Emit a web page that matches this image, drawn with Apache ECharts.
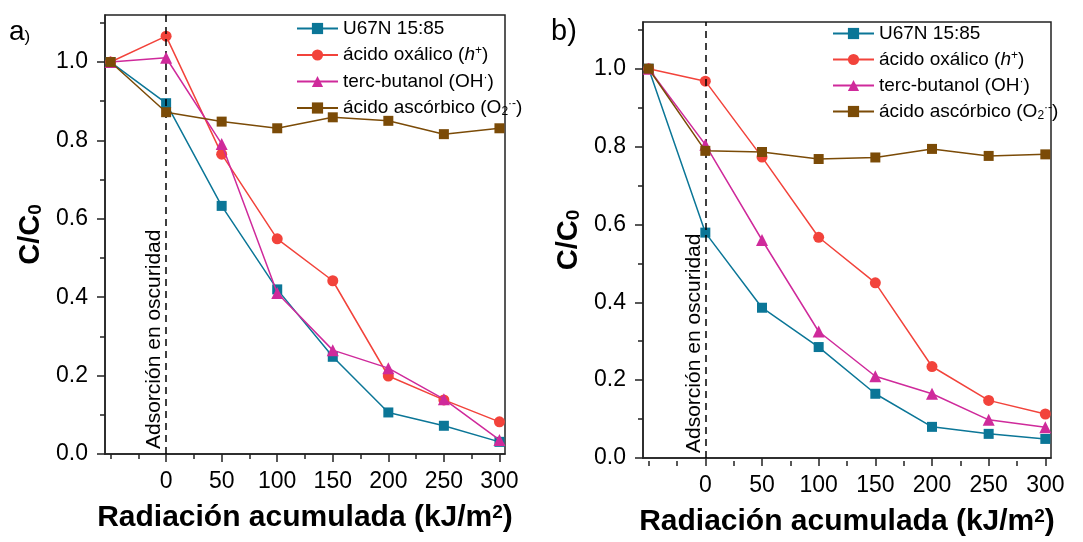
<!DOCTYPE html>
<html>
<head>
<meta charset="utf-8">
<script src="https://cdn.jsdelivr.net/npm/echarts@6/dist/echarts.min.js"></script>
<style>
html,body{margin:0;padding:0;background:#fff;}
#chart{width:1083px;height:542px;}
</style>
</head>
<body>
<div id="chart"></div>
<script>
// ---------- data ----------
const xValues = [-50, 0, 50, 100, 150, 200, 250, 300];
const seriesNames = ['U67N 15:85', 'ácido oxálico (h+)', 'terc-butanol (OH·)', 'ácido ascórbico (O2·-)'];

// panel a
const a_U67N      = [1.0, 0.895, 0.633, 0.420, 0.248, 0.106, 0.072, 0.031];
const a_oxalico   = [1.0, 1.066, 0.765, 0.549, 0.442, 0.199, 0.138, 0.082];
const a_butanol   = [1.0, 1.011, 0.791, 0.411, 0.265, 0.219, 0.140, 0.036];
const a_ascorbico = [1.0, 0.872, 0.848, 0.831, 0.859, 0.850, 0.816, 0.831];

// panel b
const b_U67N      = [1.0, 0.579, 0.386, 0.285, 0.165, 0.080, 0.062, 0.049];
const b_oxalico   = [1.0, 0.968, 0.773, 0.567, 0.450, 0.235, 0.148, 0.113];
const b_butanol   = [1.0, 0.805, 0.560, 0.325, 0.210, 0.165, 0.098, 0.079];
const b_ascorbico = [1.0, 0.789, 0.786, 0.768, 0.772, 0.794, 0.776, 0.780];

// ticks
const xMajorTicks = [0, 50, 100, 150, 200, 250, 300];
const xMinorTicks = [-50, -25, 25, 75, 125, 175, 225, 275];
const yMajorTicks = [0, 0.2, 0.4, 0.6, 0.8, 1.0];
const yMinorTicks = [0.1, 0.3, 0.5, 0.7, 0.9, 1.1];
const xRange = [-55, 305];
const yRange = [0, 1.12];
const darkLabel = 'Adsorción en oscuridad';

// ---------- styles ----------
const FONT = 'Liberation Sans, Arial, sans-serif';
const colors = ['#0b7697', '#f2433b', '#cf2a9b', '#7b4b07'];
const symbols = ['rect', 'circle', 'triangle', 'rect'];
const symSizes = [10, 11, 12, 10];

const gridsPx = [
  {left: 105, right: 578, top: 15, bottom: 88},
  {left: 643, right: 32, top: 22, bottom: 81}
];

function pairs(ys) { return xValues.map((x, i) => [x, ys[i]]); }

const richLegend = {
  n: {fontFamily: FONT, fontSize: 19, color: '#000'},
  i: {fontFamily: FONT, fontSize: 19, color: '#000', fontStyle: 'italic'},
  sup: {fontFamily: FONT, fontSize: 12, color: '#000', verticalAlign: 'top', padding: [0,0,8,0]},
  sub: {fontFamily: FONT, fontSize: 12, color: '#000', verticalAlign: 'bottom', padding: [8,0,0,0]}
};
function legendFmt(name) {
  if (name === seriesNames[0]) return '{n|U67N 15:85}';
  if (name === seriesNames[1]) return '{n|ácido oxálico (}{i|h}{sup|+}{n|)}';
  if (name === seriesNames[2]) return '{n|terc-butanol (OH}{sup|·}{n|)}';
  return '{n|ácido ascórbico (O}{sub|2}{sup|·-}{n|)}';
}

const xAxes = [], yAxes = [], grids = [], series = [], legends = [];
const gridH = [542 - 15 - 88, 542 - 22 - 81];

[0, 1].forEach(g => {
  grids.push(Object.assign({show: true, borderColor: '#222', borderWidth: 1.5, containLabel: false}, gridsPx[g]));
  // main x axis
  xAxes.push({
    type: 'value', gridIndex: g, min: xRange[0], max: xRange[1], position: 'bottom',
    name: '{t|Radiación acumulada (kJ/m}{s|2}{t|)}',
    nameLocation: 'middle', nameGap: 49,
    nameTextStyle: {rich: {
      t: {fontFamily: FONT, fontSize: 30, fontWeight: 'bold', color: '#000'},
      s: {fontFamily: FONT, fontSize: 19, fontWeight: 'bold', color: '#000', verticalAlign: 'top', padding: [0,0,10,0]}
    }},
    axisLine: {show: true, onZero: false, lineStyle: {color: '#222', width: 1.5}},
    axisTick: {show: true, inside: false, length: 8, customValues: xMajorTicks, lineStyle: {color: '#222', width: 1.5}},
    axisLabel: {show: true, customValues: xMajorTicks, fontFamily: FONT, fontSize: 23, color: '#000', margin: 16},
    splitLine: {show: false}
  });
  // minor x ticks (top axis shifted to bottom)
  xAxes.push({
    type: 'value', gridIndex: g, min: xRange[0], max: xRange[1], position: 'top', offset: -gridH[g],
    axisLine: {show: false, onZero: false},
    axisTick: {show: true, inside: true, length: 5, customValues: xMinorTicks, lineStyle: {color: '#222', width: 1.5}},
    axisLabel: {show: false}, splitLine: {show: false}
  });
  yAxes.push({
    type: 'value', gridIndex: g, min: yRange[0], max: yRange[1], position: 'left',
    name: '{t|C/C}{s|0}',
    nameLocation: 'middle', nameGap: 60,
    nameTextStyle: {rich: {
      t: {fontFamily: FONT, fontSize: 29, fontWeight: 'bold', color: '#000'},
      s: {fontFamily: FONT, fontSize: 19, fontWeight: 'bold', color: '#000', verticalAlign: 'bottom', padding: [10,0,0,0]}
    }},
    axisLine: {show: true, onZero: false, lineStyle: {color: '#222', width: 1.5}},
    axisTick: {show: true, inside: false, length: 8, customValues: yMajorTicks, lineStyle: {color: '#222', width: 1.5}},
    axisLabel: {show: true, customValues: yMajorTicks, fontFamily: FONT, fontSize: 23, color: '#000', margin: 17,
      formatter: v => v.toFixed(1)},
    splitLine: {show: false}
  });
  // minor y ticks on the left side as well
  yAxes.push({
    type: 'value', gridIndex: g, min: yRange[0], max: yRange[1], position: 'left', offset: 0,
    axisLine: {show: false, onZero: false},
    axisTick: {show: true, inside: false, length: 5, customValues: yMinorTicks, lineStyle: {color: '#222', width: 1.5}},
    axisLabel: {show: false}, splitLine: {show: false}
  });

  const data = g === 0 ? [a_U67N, a_oxalico, a_butanol, a_ascorbico] : [b_U67N, b_oxalico, b_butanol, b_ascorbico];
  data.forEach((ys, k) => {
    const s = {
      type: 'line', name: seriesNames[k], xAxisIndex: g * 2, yAxisIndex: g * 2,
      data: pairs(ys), symbol: symbols[k], symbolSize: symSizes[k],
      showAllSymbol: true, z: 3 + k,
      itemStyle: {color: colors[k]}, lineStyle: {color: colors[k], width: 1.5},
      emphasis: {disabled: true}, animation: false
    };
    if (k === 0) {
      s.markLine = {
        silent: true, symbol: ['none', 'none'], animation: false,
        lineStyle: {color: '#000', type: [7, 5], width: 1.5},
        label: {show: false},
        data: [{xAxis: 0}]
      };
    }
    series.push(s);
  });

  legends.push({
    show: true, orient: 'vertical', padding: 0,
    left: g === 0 ? 296 : 832, top: g === 0 ? 19 : 24,
    itemWidth: 41, itemHeight: 14, itemGap: g === 0 ? 7 : 6.5,
    data: seriesNames.map(n => ({name: n})),
    formatter: legendFmt,
    textStyle: {fontFamily: FONT, fontSize: 19, color: '#000', rich: richLegend},
    selectedMode: false
  });
});

const chart = echarts.init(document.getElementById('chart'), null, {renderer: 'canvas'});
chart.setOption({
  backgroundColor: '#fff',
  animation: false,
  grid: grids, xAxis: xAxes, yAxis: yAxes, series: series,
  legend: legends
});

// vertical annotation text and panel labels
const gfx = [];
[0, 1].forEach(g => {
  const p = chart.convertToPixel({xAxisIndex: g * 2, yAxisIndex: g * 2}, [0, 0]);
  gfx.push({
    type: 'text', x: p[0] - 1, y: p[1] - 5, rotation: Math.PI / 2,
    style: {text: darkLabel, fontFamily: FONT, fontSize: 21, fill: '#000', align: 'left', verticalAlign: 'bottom'},
    silent: true, z: 10
  });
});
gfx.push({
  type: 'text', left: 9, top: 18,
  style: {text: '{a|a}{p|)}', rich: {
    a: {fontFamily: FONT, fontSize: 28, fill: '#000', color: '#000'},
    p: {fontFamily: FONT, fontSize: 17, fill: '#000', color: '#000', verticalAlign: 'bottom', padding: [6,0,0,0]}
  }}, silent: true
});
gfx.push({
  type: 'text', left: 551, top: 17,
  style: {text: 'b)', fontFamily: FONT, fontSize: 29, fill: '#000'}, silent: true
});
chart.setOption({graphic: gfx});
</script>
</body>
</html>
